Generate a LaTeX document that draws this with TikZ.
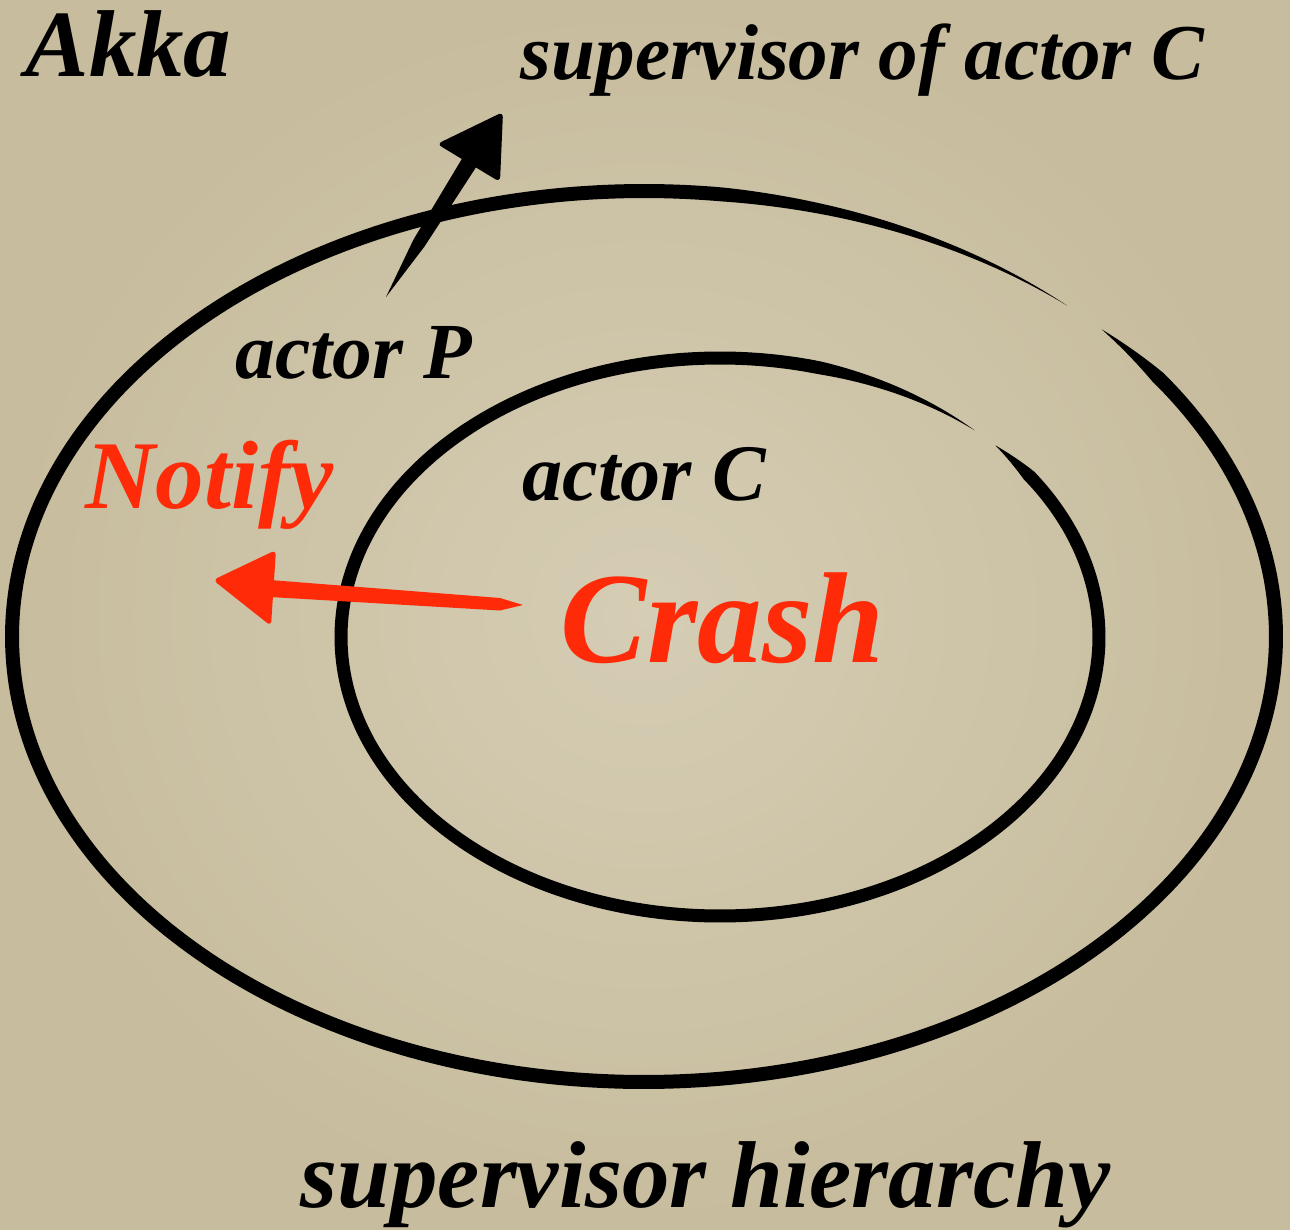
\documentclass[tikz,border=0pt]{standalone}
\usepackage{fontspec}
\setmainfont{Liberation Serif}
\usepackage{tikz}
\definecolor{bgL}{RGB}{213,205,180}
\definecolor{bgD}{RGB}{199,188,157}
\definecolor{alarm}{RGB}{255,42,8}
\begin{document}
\begin{tikzpicture}[x=0.01cm,y=-0.01cm,
  lbl/.style={inner sep=0pt, anchor=base west, font=\bfseries\itshape\fontsize{#1}{#1}\selectfont},
  ink/.style={fill=black},
  redink/.style={fill=alarm},
  declare function={wo(\u)=14*min(1,(\u-48)/35,(403.6-\u)/8); wi(\u)=13*min(1,(\u-47.8)/27,(403.4-\u)/8);}]
% background
\useasboundingbox (0,0) rectangle (1290,1230);
\shade[inner color=bgL, outer color=bgD] (0,0) rectangle (1290,1230);
% outer ellipse (actor P)
\fill[ink] plot[domain=48:403.6, samples=400, variable=\u]
  ({644+(632+wo(\u)/2)*cos(\u)}, {636.5-(445.5+wo(\u)/2)*sin(\u)})
  -- plot[domain=403.6:48, samples=400, variable=\u]
  ({644+(632-wo(\u)/2)*cos(\u)}, {636.5-(445.5-wo(\u)/2)*sin(\u)}) -- cycle;
% inner ellipse (actor C)
\fill[ink] plot[domain=47.8:403.4, samples=400, variable=\u]
  ({720+(379+wi(\u)/2)*cos(\u)}, {637-(279+wi(\u)/2)*sin(\u)})
  -- plot[domain=403.4:47.8, samples=400, variable=\u]
  ({720+(379-wi(\u)/2)*cos(\u)}, {637-(279-wi(\u)/2)*sin(\u)}) -- cycle;
% black arrow
\coordinate (bTail) at (386,297);
\coordinate (bTip) at (503,112);
\fill[ink] (bTail) -- (424.5,246.5) -- (476,167.3) -- (462,158.7) -- (413.5,239.5) -- cycle;
\fill[ink, rounded corners=1.5pt] (bTip) -- (437,144) -- (500,182) -- cycle;
% red arrow
\coordinate (rTail) at (523,605);
\coordinate (rTip) at (213,580);
\fill[redink] (270,580) -- (500,598) -- (rTail) -- (500,610.5) -- (270,597) -- cycle;
\fill[redink, rounded corners=1.5pt] (rTip) -- (276,550) -- (271,626) -- cycle;
% labels
\node[lbl=27pt] (akka) at (25,77) {Akka};
\node[lbl=22.5pt] (sup) at (520,80) {supervisor of actor C};
\node[lbl=22.6pt] (actP) at (235,378) {actor P};
\node[lbl=22.8pt] (actC) at (522,500) {actor C};
\node[lbl=27.6pt, text=alarm] (notify) at (85,508) {Notify};
\node[lbl=36.8pt, text=alarm] (crash) at (560,662) {Crash};
\node[lbl=27pt] (hier) at (300,1207) {supervisor hierarchy};
\end{tikzpicture}
\end{document}
